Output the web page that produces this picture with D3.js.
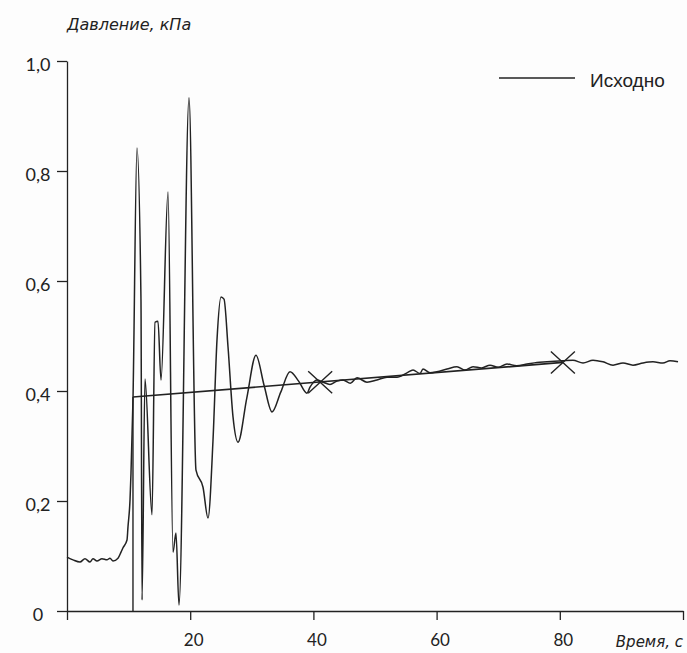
<!DOCTYPE html>
<html>
<head>
<meta charset="utf-8">
<script src="https://cdn.jsdelivr.net/npm/d3@7"></script>
<style>
  html, body { margin: 0; padding: 0; background: #fdfdfd; }
  svg { display: block; }
  .tick text { font-family: Lato, "Open Sans", sans-serif; font-size: 18px; fill: #222; }
  .title { font-family: "DejaVu Sans", sans-serif; font-style: italic; fill: #222; }
</style>
</head>
<body>
<svg id="chart" width="687" height="653"></svg>
<script>
// ── Data (time, s / pressure, kPa) ─────────────────────────────────────────
const timeS = [0, 0.97, 2.11, 2.92, 3.73, 4.22, 4.87, 5.68, 6.49, 6.98, 7.47, 8.28, 8.77, 9.09, 9.74, 9.9,
  10.23, 10.39, 10.71, 11.36, 12.01, 12.18, 12.66, 13.8, 14.29, 14.77, 15.26, 16.4, 17.21, 17.69, 18.18,
  19.81, 20.94, 22.08, 22.89, 23.7, 24.35, 25.0, 25.49, 26.14, 26.95, 27.76, 29.2, 30.68, 32.0, 33.28,
  34.7, 36.2, 37.6, 38.96, 39.45, 40.58, 41.56, 42.69, 43.83, 44.81, 46.0, 47.08, 48.7, 50.32, 51.95,
  53.57, 55.19, 56.17, 57.31, 57.79, 58.93, 60.06, 61.69, 63.31, 64.6, 65.91, 67.3, 68.67, 70.0, 71.43,
  73.0, 74.68, 76.3, 77.92, 80.52, 82.14, 83.77, 85.39, 87.01, 88.64, 90.26, 91.88, 93.51, 95.13, 96.75,
  97.89, 99.19];
const pressure = [0.098, 0.093, 0.089, 0.095, 0.089, 0.095, 0.091, 0.095, 0.093, 0.096, 0.091, 0.096, 0.107,
  0.115, 0.129, 0.153, 0.202, 0.251, 0.384, 0.842, 0.565, 0.02, 0.422, 0.175, 0.525, 0.527, 0.42, 0.762,
  0.107, 0.142, 0.011, 0.933, 0.256, 0.225, 0.169, 0.31, 0.493, 0.571, 0.567, 0.48, 0.353, 0.307, 0.388,
  0.465, 0.41, 0.362, 0.398, 0.435, 0.418, 0.396, 0.407, 0.42, 0.416, 0.412, 0.418, 0.42, 0.414, 0.424,
  0.416, 0.42, 0.425, 0.425, 0.433, 0.438, 0.432, 0.44, 0.433, 0.435, 0.44, 0.444, 0.438, 0.444, 0.442,
  0.447, 0.443, 0.449, 0.446, 0.449, 0.452, 0.453, 0.455, 0.456, 0.451, 0.456, 0.453, 0.447, 0.451,
  0.447, 0.451, 0.453, 0.451, 0.455, 0.453];

// fitted trend line and its two marked points
const trendT = [10.71, 80.5];
const trendP = [0.389, 0.452];
const markT = [41.1, 80.5];
const markP = [0.416, 0.452];

const xTicks = [0, 20, 40, 60, 80, 100];
const yTicks = [0, 0.2, 0.4, 0.6, 0.8, 1.0];
const legendLabel = 'Исходно';

// ── Setup ────────────────────────────────────────────────────────────────
const svg = d3.select('#chart');
const x = d3.scaleLinear().domain([0, 100]).range([67, 683]);
const y = d3.scaleLinear().domain([0, 1]).range([611, 61]);
const ink = '#222';

// axes
const gx = svg.append('g')
  .attr('transform', `translate(0,${y(0)})`)
  .call(d3.axisBottom(x).tickValues(xTicks).tickSize(9).tickSizeOuter(0)
    .tickFormat(d => (d === 0 || d === 100) ? '' : d));
gx.selectAll('.tick text').attr('y', 23).attr('dx', 3).style('font-size', '17px');

const gy = svg.append('g')
  .attr('transform', `translate(${x(0)},0)`)
  .call(d3.axisLeft(y).tickValues(yTicks).tickSize(10).tickSizeOuter(0)
    .tickFormat(d => d === 0 ? '0' : d.toFixed(1).replace('.', ',')));
gy.selectAll('.tick text').attr('text-anchor', 'middle').attr('x', 38 - x(0)).attr('dy', '0.55em');

svg.selectAll('.domain, .tick line').attr('stroke', ink).attr('stroke-width', 1.3);

// axis titles
svg.append('text').attr('class', 'title').attr('x', 67).attr('y', 30)
  .attr('font-size', 16).text('Давление, кПа');
svg.append('text').attr('class', 'title').attr('x', 683).attr('y', 647)
  .attr('font-size', 15).attr('text-anchor', 'end').text('Время, с');

// ── Trace ────────────────────────────────────────────────────────────────
const pts = timeS.map((t, i) => [t, pressure[i]]);
const line = d3.line().x(d => x(d[0])).y(d => y(d[1])).curve(d3.curveMonotoneX);

svg.append('path')
  .datum(pts)
  .attr('d', line)
  .attr('fill', 'none')
  .attr('stroke', ink)
  .attr('stroke-width', 1.5);

// trend line + drop line at its start
const trend = trendT.map((t, i) => [t, trendP[i]]);
svg.append('path')
  .datum(trend)
  .attr('d', d3.line().x(d => x(d[0])).y(d => y(d[1])))
  .attr('stroke', ink).attr('stroke-width', 1.6).attr('fill', 'none');
svg.append('line')
  .attr('x1', x(trendT[0])).attr('x2', x(trendT[0]))
  .attr('y1', y(trendP[0])).attr('y2', y(0))
  .attr('stroke', ink).attr('stroke-width', 1.4);

// X markers
const marks = svg.selectAll('.mark').data(markT.map((t, i) => [t, markP[i]]))
  .join('g').attr('class', 'mark')
  .attr('transform', d => `translate(${x(d[0])},${y(d[1])})`);
marks.append('path')
  .attr('d', 'M-12,-11L12,11M-12,11L12,-11')
  .attr('stroke', ink).attr('stroke-width', 1.4);

// ── Legend ───────────────────────────────────────────────────────────────
svg.append('line').attr('x1', 499).attr('x2', 575).attr('y1', 78).attr('y2', 78)
  .attr('stroke', ink).attr('stroke-width', 1.3);
svg.append('text').attr('x', 590).attr('y', 87)
  .attr('font-family', '"Liberation Sans", Arial, sans-serif').attr('font-size', 19)
  .attr('fill', ink).text(legendLabel);
</script>
</body>
</html>
